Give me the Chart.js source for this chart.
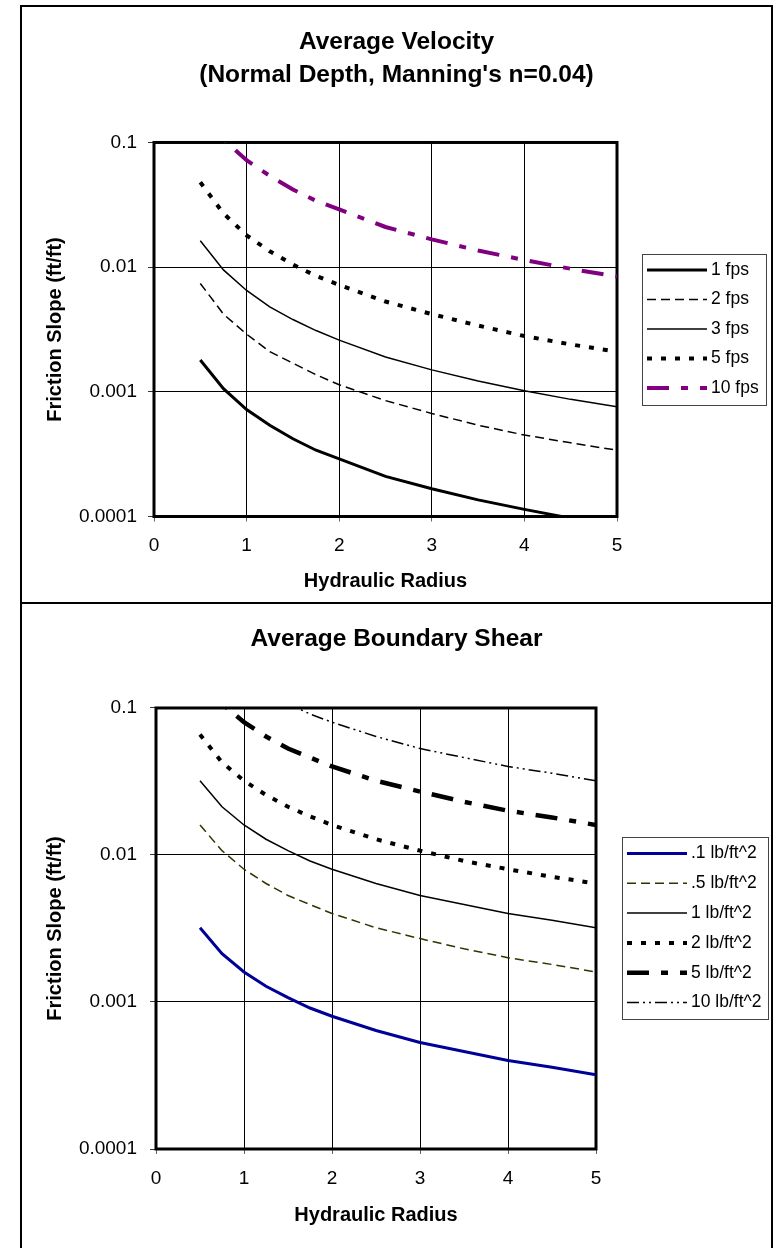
<!DOCTYPE html>
<html>
<head>
<meta charset="utf-8">
<script src="https://cdn.jsdelivr.net/npm/chart.js@4.4.0/dist/chart.umd.min.js"></script>
<style>
  body { margin: 0; background: #fff; }
  .box { position: absolute; left: 20px; width: 749px; border: 2px solid #000; background: #fff; }
  #box1 { top: 5px; height: 595px; }
  #box2 { top: 602px; height: 660px; }
  canvas { display: block; }
</style>
</head>
<body>
<div class="box" id="box1"><canvas id="velChart" width="749" height="595"></canvas></div>
<div class="box" id="box2"><canvas id="shearChart" width="749" height="644"></canvas></div>
<script>
// hydraulic radius values (x) shared by both charts
const radius = [0.5, 0.75, 1, 1.25, 1.5, 1.75, 2, 2.5, 3, 3.5, 4, 4.5, 5];
const yTicks = [0.0001, 0.001, 0.01, 0.1];
const yTickLabels = ['0.0001', '0.001', '0.01', '0.1'];

// top chart: average velocity
const velLabels = ['1 fps', '2 fps', '3 fps', '5 fps', '10 fps'];
const fps1 = [0.0018, 0.00106, 0.00072, 0.00054, 0.00042, 0.00034, 0.00029, 0.00021, 0.000167, 0.000136, 0.000114, 0.000097, 0.000084];
const fps2 = [0.0074, 0.0042, 0.0029, 0.0021, 0.0017, 0.00137, 0.00114, 0.00085, 0.00067, 0.00054, 0.00045, 0.00039, 0.00034];
const fps3 = [0.0163, 0.0095, 0.0065, 0.0048, 0.0038, 0.0031, 0.0026, 0.0019, 0.0015, 0.00122, 0.00102, 0.00087, 0.00076];
const fps5 = [0.048, 0.027, 0.018, 0.0134, 0.0105, 0.0085, 0.0072, 0.0053, 0.0042, 0.0034, 0.0028, 0.0024, 0.0021];
const fps10 = [0.18, 0.106, 0.072, 0.054, 0.042, 0.034, 0.029, 0.021, 0.0167, 0.0136, 0.0114, 0.0097, 0.0084];

// bottom chart: average boundary shear
const shearLabels = ['.1 lb/ft^2', '.5 lb/ft^2', '1 lb/ft^2', '2 lb/ft^2', '5 lb/ft^2', '10 lb/ft^2'];
const tau01 = [0.0032, 0.00213, 0.0016, 0.00128, 0.00107, 0.00091, 0.0008, 0.00064, 0.00053, 0.00046, 0.0004, 0.00036, 0.00032];
const tau05 = [0.016, 0.0107, 0.008, 0.0064, 0.0053, 0.0046, 0.004, 0.0032, 0.0027, 0.0023, 0.002, 0.0018, 0.0016];
const tau1 = [0.032, 0.0213, 0.016, 0.0128, 0.0107, 0.0091, 0.008, 0.0064, 0.0053, 0.0046, 0.004, 0.0036, 0.0032];
const tau2 = [0.066, 0.0427, 0.032, 0.0256, 0.0213, 0.0183, 0.016, 0.0128, 0.0107, 0.0091, 0.008, 0.0071, 0.0064];
const tau5 = [0.16, 0.107, 0.08, 0.064, 0.053, 0.046, 0.04, 0.032, 0.027, 0.023, 0.02, 0.018, 0.016];
const tau10 = [0.32, 0.213, 0.16, 0.128, 0.107, 0.091, 0.08, 0.064, 0.053, 0.046, 0.04, 0.036, 0.032];

const velStyles = [
  {color: '#000', width: 3, dash: []},
  {color: '#000', width: 1.5, dash: [9, 5]},
  {color: '#000', width: 1.5, dash: []},
  {color: '#000', width: 4, dash: [5, 9]},
  {color: '#800080', width: 4, dash: [22, 12, 7, 12]}
];
const shearStyles = [
  {color: '#000099', width: 3, dash: []},
  {color: '#333300', width: 1.5, dash: [9, 5]},
  {color: '#000', width: 1.5, dash: []},
  {color: '#000', width: 4, dash: [5, 9]},
  {color: '#000', width: 4.5, dash: [22, 12, 7, 12]},
  {color: '#000', width: 1.5, dash: [12, 4, 2, 4, 2, 4]}
];

Chart.defaults.font.family = '"Liberation Sans", Arial, sans-serif';
Chart.defaults.color = '#000';

// thick black box round the plot area
const plotFrame = {
  id: 'plotFrame',
  beforeDatasetsDraw(chart) {
    const a = chart.chartArea;
    const c = chart.ctx;
    c.save();
    c.strokeStyle = '#000';
    c.lineWidth = 3;
    c.strokeRect(a.left, a.top, a.right - a.left, a.bottom - a.top);
    c.restore();
  }
};

// Excel style legend: boxed, line sample then text, centred on plot height
const boxLegend = {
  id: 'boxLegend',
  afterDraw(chart, args, opts) {
    const c = chart.ctx;
    const a = chart.chartArea;
    const sets = chart.data.datasets;
    c.save();
    c.font = opts.font;
    let textW = 0;
    sets.forEach(ds => { textW = Math.max(textW, c.measureText(ds.label).width); });
    const w = 5 + opts.sample + 4 + textW + 7;
    const h = 16 + (sets.length - 1) * opts.rowH + 17;
    const left = a.right + opts.gap;
    const top = (a.top + a.bottom) / 2 - h / 2;
    c.strokeStyle = '#444';
    c.lineWidth = 1;
    c.strokeRect(Math.round(left) + 0.5, Math.round(top) + 0.5, Math.round(w), Math.round(h));
    sets.forEach((ds, i) => {
      const y = top + 16 + i * opts.rowH;
      c.beginPath();
      c.setLineDash(ds.borderDash || []);
      c.lineWidth = ds.borderWidth;
      c.strokeStyle = ds.borderColor;
      c.moveTo(left + 5, y);
      c.lineTo(left + 5 + opts.sample, y);
      c.stroke();
      c.setLineDash([]);
      c.fillStyle = '#000';
      c.textBaseline = 'middle';
      c.textAlign = 'left';
      c.fillText(ds.label, left + 5 + opts.sample + 4, y);
    });
    c.restore();
  }
};

function buildSets(labels, series, styles) {
  return series.map((vals, i) => ({
    label: labels[i],
    data: radius.map((r, j) => ({x: r, y: vals[j]})),
    borderColor: styles[i].color,
    borderWidth: styles[i].width,
    borderDash: styles[i].dash,
    pointRadius: 0,
    tension: 0,
    fill: false,
    xAxisID: 'x',
    yAxisID: 'y'
  }));
}

function makeChart(id, title, datasets, lay) {
  const ctx = document.getElementById(id).getContext('2d');
  return new Chart(ctx, {
    type: 'line',
    data: { datasets: datasets },
    plugins: [plotFrame, boxLegend],
    options: {
      responsive: false,
      animation: false,
      events: [],
      layout: { padding: 0 },
      plugins: {
        legend: { display: false },
        tooltip: { enabled: false },
        title: {
          display: true,
          text: title,
          font: { size: 24.5, weight: 'bold', lineHeight: 1.33 },
          padding: { top: lay.titleTop, bottom: lay.titleBottom }
        },
        boxLegend: { font: '17.5px "Liberation Sans", Arial, sans-serif', sample: 60, gap: lay.legendGap, rowH: lay.rowH }
      },
      scales: {
        x: {
          type: 'linear',
          min: 0,
          max: 5,
          ticks: { stepSize: 1, font: { size: 19 }, padding: 13, maxRotation: 0 },
          grid: { color: '#000', lineWidth: 1, tickLength: 5, tickColor: '#666' },
          border: { display: false },
          title: {
            display: true,
            text: 'Hydraulic Radius',
            font: { size: 20, weight: 'bold' },
            padding: { top: 0, bottom: lay.xTitlePad }
          },
          afterFit(s) { s.height = lay.xHeight; }
        },
        y: {
          type: 'logarithmic',
          min: yTicks[0],
          max: yTicks[yTicks.length - 1],
          afterBuildTicks(s) { s.ticks = yTicks.map(v => ({value: v})); },
          ticks: {
            callback: v => yTickLabels[yTicks.indexOf(v)],
            font: { size: 19 },
            padding: lay.yTickPad,
            autoSkip: false
          },
          grid: { color: '#000', lineWidth: 1, tickLength: 6, tickColor: '#333' },
          border: { display: false },
          title: {
            display: true,
            text: 'Friction Slope (ft/ft)',
            font: { size: 20, weight: 'bold' },
            padding: { top: lay.yTitlePad, bottom: 0 }
          },
          afterFit(s) { s.width = lay.yWidth; }
        },
        // empty axis that only keeps room for the legend
        yRight: {
          type: 'linear',
          position: 'right',
          grid: { display: false },
          ticks: { display: false },
          border: { display: false },
          afterFit(s) { s.width = lay.rightWidth; }
        }
      }
    }
  });
}

makeChart('velChart', ['Average Velocity', "(Normal Depth, Manning's n=0.04)"],
  buildSets(velLabels, [fps1, fps2, fps3, fps5, fps10], velStyles),
  { titleTop: 19, titleBottom: 51.3, yWidth: 132, yTickPad: 11, yTitlePad: 21.5,
    xHeight: 85.5, xTitlePad: 9, rightWidth: 154, legendGap: 25, rowH: 29.5 });

makeChart('shearChart', 'Average Boundary Shear',
  buildSets(shearLabels, [tau01, tau05, tau1, tau2, tau5, tau10], shearStyles),
  { titleTop: 19, titleBottom: 52.4, yWidth: 134, yTickPad: 13, yTitlePad: 21,
    xHeight: 99, xTitlePad: 21, rightWidth: 175, legendGap: 26, rowH: 29.8 });
</script>
</body>
</html>
